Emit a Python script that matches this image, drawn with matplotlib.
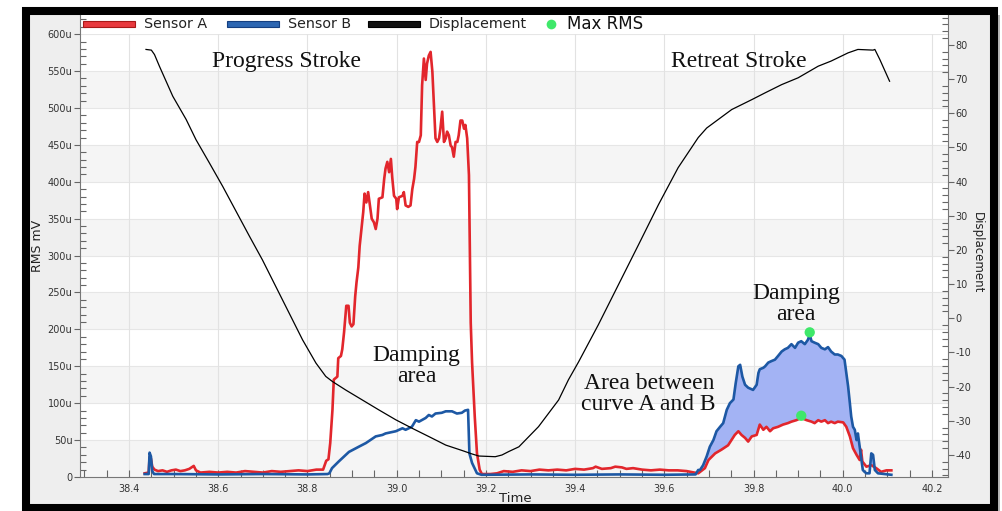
import numpy as np
import matplotlib
matplotlib.use("Agg")
import matplotlib.pyplot as plt
from matplotlib.patches import Rectangle
from matplotlib.lines import Line2D
from matplotlib.ticker import MultipleLocator, FuncFormatter

plt.rcParams.update({
    "font.family": "DejaVu Sans",
    "axes.unicode_minus": False,
})

# ---------------------------------------------------------------------------
# Signals (time in s, RMS in micro-units, displacement in mm)
# ---------------------------------------------------------------------------
sensor_a_t = [
    38.435, 38.444, 38.446, 38.449, 38.452, 38.457, 38.465, 38.475, 38.485, 38.495,
    38.505, 38.515, 38.525, 38.535, 38.545, 38.550, 38.560, 38.580, 38.600, 38.620,
    38.640, 38.660, 38.680, 38.700, 38.720, 38.740, 38.760, 38.780, 38.800, 38.820,
    38.835, 38.842, 38.847, 38.851, 38.856, 38.859, 38.867, 38.869, 38.875, 38.878,
    38.882, 38.887, 38.892, 38.895, 38.899, 38.903, 38.907, 38.910, 38.914, 38.917,
    38.921, 38.925, 38.928, 38.932, 38.936, 38.940, 38.944, 38.949, 38.953, 38.957,
    38.960, 38.968, 38.972, 38.975, 38.979, 38.983, 38.987, 38.990, 38.994, 38.999,
    39.001, 39.005, 39.013, 39.016, 39.020, 39.026, 39.031, 39.035, 39.039, 39.042,
    39.046, 39.050, 39.054, 39.057, 39.061, 39.065, 39.068, 39.072, 39.076, 39.080,
    39.083, 39.087, 39.091, 39.095, 39.098, 39.102, 39.106, 39.110, 39.113, 39.117,
    39.121, 39.124, 39.128, 39.132, 39.136, 39.139, 39.143, 39.147, 39.151, 39.154,
    39.158, 39.162, 39.166, 39.169, 39.175, 39.180, 39.186, 39.191, 39.210, 39.225,
    39.240, 39.260, 39.280, 39.300, 39.320, 39.340, 39.360, 39.380, 39.400, 39.420,
    39.440, 39.446, 39.460, 39.480, 39.490, 39.505, 39.515, 39.530, 39.550, 39.570,
    39.590, 39.610, 39.630, 39.650, 39.668, 39.676, 39.691, 39.699, 39.714, 39.728,
    39.743, 39.758, 39.766, 39.773, 39.781, 39.788, 39.796, 39.807, 39.814, 39.822,
    39.829, 39.837, 39.844, 39.855, 39.866, 39.877, 39.885, 39.896, 39.907, 39.919,
    39.930, 39.937, 39.945, 39.952, 39.960, 39.967, 39.974, 39.982, 39.989, 40.001,
    40.008, 40.016, 40.023, 40.031, 40.038, 40.041, 40.044, 40.053, 40.064, 40.075,
    40.086, 40.098, 40.109,
]
sensor_a_u = [
    5, 6, 27, 25, 14, 10, 8, 9, 7, 9,
    10, 8, 9, 11, 15, 9, 6, 7, 6, 7,
    6, 8, 7, 6, 8, 7, 8, 9, 8, 10,
    10, 22, 24, 46, 91, 132, 136, 161, 164, 173,
    196, 232, 232, 209, 204, 207, 245, 264, 284, 313,
    336, 359, 384, 372, 386, 368, 350, 345, 336, 350,
    377, 379, 404, 418, 427, 413, 431, 406, 381, 377,
    363, 379, 381, 386, 368, 366, 368, 390, 404, 420,
    454, 454, 463, 531, 567, 538, 560, 571, 576, 549,
    511, 459, 454, 459, 472, 495, 454, 459, 468, 463,
    449, 447, 434, 454, 454, 463, 483, 483, 472, 477,
    459, 409, 209, 155, 82, 32, 10, 4, 4, 5,
    8, 7, 9, 8, 10, 9, 10, 9, 11, 10,
    12, 14, 11, 12, 14, 13, 11, 12, 10, 9,
    10, 9, 9, 8, 6, 5, 12, 23, 32, 37,
    43, 57, 62, 57, 53, 48, 55, 57, 71, 64,
    68, 62, 66, 68, 71, 73, 75, 77, 80, 77,
    75, 73, 77, 75, 77, 73, 75, 73, 75, 74,
    68, 55, 39, 30, 23, 37, 21, 14, 16, 12,
    7, 9, 9,
]

sensor_b_t = [
    38.435, 38.444, 38.446, 38.449, 38.452, 38.456, 38.500, 38.600, 38.700, 38.800,
    38.845, 38.849, 38.855, 38.870, 38.893, 38.915, 38.931, 38.953, 38.968, 38.975,
    38.998, 39.013, 39.020, 39.034, 39.043, 39.050, 39.065, 39.072, 39.079, 39.087,
    39.101, 39.110, 39.124, 39.135, 39.146, 39.153, 39.160, 39.163, 39.169, 39.180,
    39.190, 39.300, 39.400, 39.500, 39.600, 39.670, 39.676, 39.680, 39.687, 39.695,
    39.702, 39.710, 39.717, 39.725, 39.732, 39.740, 39.747, 39.755, 39.760, 39.766,
    39.770, 39.775, 39.781, 39.788, 39.799, 39.807, 39.811, 39.814, 39.822, 39.826,
    39.833, 39.840, 39.848, 39.855, 39.863, 39.870, 39.877, 39.885, 39.893, 39.900,
    39.907, 39.915, 39.922, 39.926, 39.930, 39.937, 39.945, 39.952, 39.960, 39.967,
    39.974, 39.982, 39.989, 39.997, 40.004, 40.008, 40.012, 40.016, 40.019, 40.023,
    40.027, 40.031, 40.034, 40.038, 40.042, 40.045, 40.049, 40.053, 40.060, 40.064,
    40.068, 40.072, 40.079, 40.109,
]
sensor_b_u = [
    4, 4, 33, 28, 8, 4, 4, 3.5, 4, 3.5,
    4, 5, 12, 21, 34, 41, 46, 55, 57, 59,
    62, 66, 64, 68, 77, 75, 80, 84, 82, 86,
    87, 89, 89, 86, 87, 90, 91, 32, 19, 5,
    3, 3.5, 3, 3.5, 3, 3.5, 9.5, 9.5, 16, 28,
    41, 50, 62, 68, 73, 91, 100, 105, 127, 150,
    152, 136, 125, 121, 118, 125, 141, 146, 148, 150,
    155, 157, 159, 164, 170, 173, 175, 180, 175, 182,
    184, 180, 186, 193, 184, 182, 180, 175, 173, 176,
    170, 166, 166, 164, 159, 141, 123, 100, 82, 68,
    64, 50, 59, 41, 23, 9.5, 7, 5, 5, 32,
    30, 9.5, 5, 3,
]

disp_t = [
    38.438, 38.450, 38.457, 38.468, 38.498, 38.528, 38.550, 38.580, 38.610, 38.640,
    38.670, 38.699, 38.729, 38.759, 38.789, 38.819, 38.841, 38.856, 38.886, 38.923,
    38.960, 38.998, 39.035, 39.072, 39.110, 39.147, 39.169, 39.184, 39.221, 39.236,
    39.251, 39.274, 39.318, 39.363, 39.385, 39.408, 39.452, 39.497, 39.542, 39.587,
    39.631, 39.676, 39.695, 39.751, 39.796, 39.826, 39.863, 39.900, 39.945, 39.974,
    40.012, 40.034, 40.068, 40.072, 40.083, 40.105,
]
disp_mm = [
    78.7, 78.5, 77.2, 73.8, 65.0, 58.2, 52.3, 45.5, 38.6, 31.3,
    24.0, 17.1, 9.3, 1.5, -6.3, -13.1, -17.0, -18.5, -21.0, -23.9,
    -26.8, -29.7, -32.2, -34.6, -37.1, -38.7, -39.7, -40.3, -40.5, -40.0,
    -39.0, -37.6, -31.7, -23.9, -18.0, -12.7, -1.9, 9.8, 21.5, 33.3,
    44.1, 52.9, 55.7, 61.1, 64.0, 66.0, 68.4, 70.4, 73.8, 75.3,
    77.7, 78.7, 78.5, 78.7, 75.8, 69.4,
]

retreat_window = (39.67, 40.08)

RED = "#e2262c"
BLUE = "#1d58a4"
FILL = "#a3b3f4"
GREEN = "#3fe86a"

a_t = np.array(sensor_a_t)
a_u = np.array(sensor_a_u)
b_t = np.array(sensor_b_t)
b_u = np.array(sensor_b_u)

# ---------------------------------------------------------------------------
# Figure with framed grey panel
# ---------------------------------------------------------------------------
W, H = 1003, 511
fig = plt.figure(figsize=(W / 100, H / 100), dpi=100)
fig.patch.set_facecolor("white")
fig.patches.append(Rectangle((29 / W, -2 / H), 971 / W, 498 / H, transform=fig.transFigure,
                             facecolor="#b8b8b8", edgecolor="none", zorder=-3))
fig.patches.append(Rectangle((26 / W, 3 / H), 968 / W, 497 / H, transform=fig.transFigure,
                             facecolor="#eeeeee", edgecolor="black", linewidth=5.8, zorder=-2))

ax = fig.add_axes([80 / W, 34 / H, 868 / W, 462 / H])
ax.set_facecolor("white")
ax.set_xlim(38.29, 40.236)
ax.set_ylim(0, 626)

# alternating horizontal bands between the 50u grid lines
for lo in range(0, 600, 100):
    ax.axhspan(lo, lo + 50, color="#f5f5f5", lw=0, zorder=0)
for yv in range(50, 650, 50):
    ax.axhline(yv, color="#e6e6e6", lw=0.8, zorder=0.5)
for xv in np.arange(38.4, 40.25, 0.2):
    ax.axvline(xv, color="#e2e2e2", lw=0.8, zorder=0.5)

# area between curve A and B during the retreat stroke
mask_a = (a_t >= retreat_window[0]) & (a_t <= retreat_window[1])
mask_b = (b_t >= retreat_window[0]) & (b_t <= retreat_window[1])
t_fill = np.union1d(a_t[mask_a], b_t[mask_b])
a_fill = np.interp(t_fill, a_t, a_u)
b_fill = np.interp(t_fill, b_t, b_u)
ax.fill_between(t_fill, a_fill, b_fill, where=b_fill >= a_fill, interpolate=True,
                color=FILL, lw=0, zorder=1)

ax.plot(a_t, a_u, color=RED, lw=1.9, zorder=3)
ax.plot(b_t, b_u, color=BLUE, lw=1.9, zorder=3)

# Max RMS markers within the retreat stroke
ia = np.flatnonzero(mask_a)[np.argmax(a_u[mask_a])]
ib = np.flatnonzero(mask_b)[np.argmax(b_u[mask_b])]
ax.scatter([a_t[ia], b_t[ib]], [a_u[ia] + 3, b_u[ib] + 3], s=55, color=GREEN,
           edgecolors="none", zorder=5)

# axis styling
ax.xaxis.set_major_locator(MultipleLocator(0.2))
ax.xaxis.set_minor_locator(MultipleLocator(0.05))
ax.xaxis.set_major_formatter(FuncFormatter(lambda v, p: f"{v:.1f}"))
ax.yaxis.set_major_locator(MultipleLocator(50))
ax.yaxis.set_minor_locator(MultipleLocator(10))
ax.yaxis.set_major_formatter(FuncFormatter(lambda v, p: "0" if v == 0 else f"{v:.0f}u"))
ax.tick_params(axis="x", which="both", direction="in", length=5, width=0.8,
               color="#666666", labelsize=7, labelcolor="#333333", pad=5)
ax.tick_params(axis="y", which="major", direction="out", length=4, width=0.8,
               color="#666666", labelsize=7, labelcolor="#333333", pad=1.5)
ax.tick_params(axis="y", which="minor", direction="in", length=4, width=0.8, color="#666666")
for side in ("left", "bottom"):
    ax.spines[side].set_color("#777777")
ax.spines["top"].set_visible(False)
ax.spines["right"].set_visible(False)

ax.set_ylabel("RMS mV", fontsize=9, color="#222222")
ax.yaxis.set_label_coords(-0.041, 0.5)
ax.set_xlabel("Time", fontsize=9.5, color="#222222")
ax.xaxis.set_label_coords(0.502, -0.033)

# displacement on the secondary axis
ax2 = ax.twinx()
ax2.set_ylim(-46.44, 88.78)
ax2.plot(disp_t, disp_mm, color="black", lw=0.9)
ax2.yaxis.set_major_locator(MultipleLocator(10))
ax2.yaxis.set_minor_locator(MultipleLocator(2))
ax2.tick_params(axis="y", which="major", direction="out", length=4, width=0.8,
                color="#666666", labelsize=7, labelcolor="#333333", pad=1.5)
ax2.tick_params(axis="y", which="minor", direction="in", length=4, width=0.8, color="#666666")
ax2.spines["right"].set_color("#777777")
for side in ("left", "top", "bottom"):
    ax2.spines[side].set_visible(False)
ax2.set_ylabel("Displacement", fontsize=8.5, color="#222222", rotation=-90,
               va="center", ha="center")
ax2.yaxis.set_label_coords(1.0334, 0.485)

# legend strip along the top of the plot
ax.axhspan(600, 626, color="white", lw=0, zorder=0.6)
leg_y = 0.9805
for x0, face, edge, label in [
    (0.0035, "#e8393e", "#a81818", "Sensor A"),
    (0.1694, "#2c66b2", "#143f80", "Sensor B"),
    (0.3318, "#111111", "#000000", "Displacement"),
]:
    ax.add_patch(Rectangle((x0, leg_y - 0.0068), 0.06, 0.0136, transform=ax.transAxes,
                           facecolor=face, edgecolor=edge, lw=0.8, zorder=6, clip_on=False))
    ax.text(x0 + 0.0703, leg_y, label, transform=ax.transAxes, fontsize=10.3,
            va="center", ha="left", color="#222222", zorder=6)
ax.add_line(Line2D([0.5426], [leg_y], transform=ax.transAxes, marker="o", markersize=7,
                   color=GREEN, markeredgecolor="none", linestyle="none", zorder=6))
ax.text(0.561, leg_y, "Max RMS", transform=ax.transAxes, fontsize=12,
        va="center", ha="left", color="#111111", zorder=6)

# annotations
serif = dict(family="Liberation Serif", fontsize=17, color="#111111", ha="center",
             va="center", linespacing=1.0, zorder=7)
ax.text(38.752, 563, "Progress Stroke", **serif)
ax.text(39.768, 563, "Retreat Stroke", **serif)
ax.text(39.044, 151, "Damping\narea", **serif)
ax.text(39.565, 112, "Area between\ncurve A and B", **serif)
ax.text(39.895, 235, "Damping\narea", **serif)

fig.savefig("out.png", dpi=100)
